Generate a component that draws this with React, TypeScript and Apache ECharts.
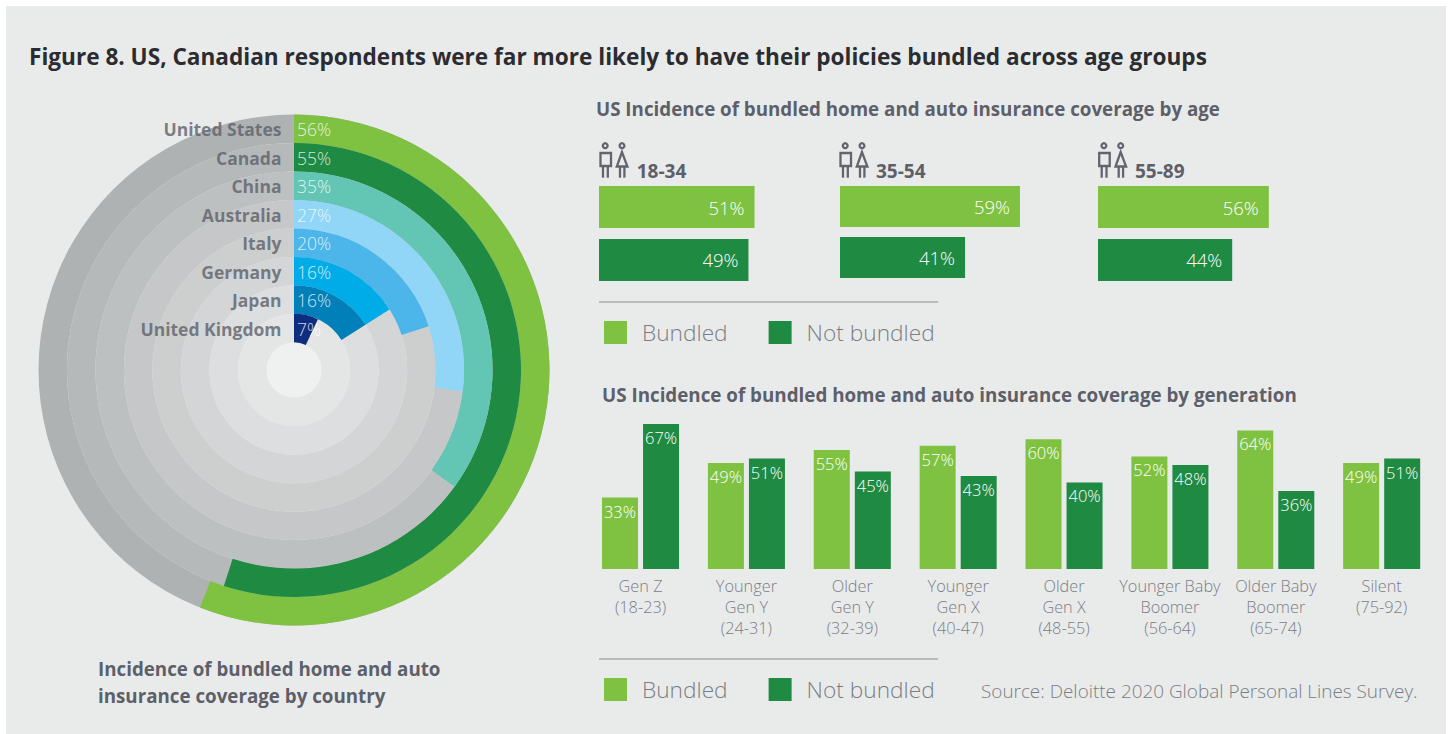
import React, { useEffect, useRef } from "react";
import * as echarts from "echarts";

// Country rings, outermost first
const countries = ["United States", "Canada", "China", "Australia", "Italy", "Germany", "Japan", "United Kingdom"];
const countryShares = [56, 55, 35, 27, 20, 16, 16, 7];
const ringFull = [100, 100, 100, 100, 100, 100, 100, 100];
const ringColors = ["#7fc241", "#1f8a42", "#63c5b3", "#91d6f7", "#4cb6ea", "#00ace8", "#007fb8", "#0f2d7e"];
const trackColors = ["#aeb2b3", "#b5b9b9", "#bdc0c1", "#c5c7c8", "#cdcfce", "#d3d5d6", "#dcdee0", "#e4e6e6"];

// Age groups
const ageGroups = ["18-34", "35-54", "55-89"];
const ageBundled = [51, 59, 56];
const ageNotBundled = [49, 41, 44];

// Generations
const generations = [
  "Gen Z\n(18-23)",
  "Younger\nGen Y\n(24-31)",
  "Older\nGen Y\n(32-39)",
  "Younger\nGen X\n(40-47)",
  "Older\nGen X\n(48-55)",
  "Younger Baby\nBoomer\n(56-64)",
  "Older Baby\nBoomer\n(65-74)",
  "Silent\n(75-92)",
];
const generationBundled = [33, 49, 55, 57, 60, 52, 64, 49];
const generationNotBundled = [67, 51, 45, 43, 40, 48, 36, 51];

const legendNames = ["Bundled", "Not bundled"];

const FONT = "'Open Sans', sans-serif";
const LIGHT_GREEN = "#7fc241";
const DARK_GREEN = "#1f8a42";
const HEADING = "#5d5f69";
const SOFT_TEXT = "#7b7d84";

// One pair of pictograms (man and woman) drawn as stroked outlines
function peopleIcon(x: number) {
  const style = { stroke: "#63656e", lineWidth: 2.3, fill: "none" };
  const leg = (px: number, y1: number) => ({
    type: "line",
    shape: { x1: px, y1, x2: px, y2: 177.7 },
    style,
  });
  return {
    type: "group",
    x,
    children: [
      { type: "circle", shape: { cx: 605.2, cy: 145.7, r: 2.4 }, style },
      { type: "rect", shape: { x: 600.5, y: 153, width: 10.5, height: 13 }, style },
      leg(603, 166),
      leg(607.8, 166),
      { type: "circle", shape: { cx: 622, cy: 145.7, r: 2.4 }, style },
      { type: "polygon", shape: { points: [[622, 152], [616.8, 166.5], [627.4, 166.5]] }, style },
      leg(620, 166.5),
      leg(624.4, 166.5),
    ],
  };
}

function textAt(text: string, x: number, y: number, fontSize: number, fill: string, fontWeight: number | string = "bold") {
  return {
    type: "text",
    x,
    y,
    style: { text, fontFamily: FONT, fontSize, fontWeight, fill, verticalAlign: "middle", align: "left" },
  };
}

function rule(y: number) {
  return {
    type: "line",
    shape: { x1: 599, y1: y, x2: 938, y2: y },
    style: { stroke: "#a9abad", lineWidth: 1.6 },
  };
}

const ageLefts = [599, 840, 1098];
const ageLayouts = [
  { height: 95, barWidth: 42, barGap: "26%" },
  { height: 92, barWidth: 41, barGap: "24%" },
  { height: 95, barWidth: 42, barGap: "26%" },
];
const ageIconShift = [0, 240, 498.7];
const ageLabelX = [636.7, 876, 1135];

function buildOption() {
  const ageGrids = ageLefts.map((left, i) => ({ left, top: 186, width: 305, height: ageLayouts[i].height }));
  const grids = [
    ...ageGrids,
    { left: 587.6, top: 417.5, width: 847, height: 151.5 },
  ];
  const hiddenLine = { show: false };

  const xAxes: any[] = ageLefts.map((_, i) => ({
    type: "value", gridIndex: i, min: 0, max: 100, show: false,
  }));
  const yAxes: any[] = ageLefts.map((_, i) => ({
    type: "category", gridIndex: i, data: [ageGroups[i]], inverse: true, show: false,
  }));
  xAxes.push({
    type: "category",
    gridIndex: 3,
    data: generations,
    axisLine: hiddenLine,
    axisTick: hiddenLine,
    axisLabel: {
      interval: 0,
      margin: 6,
      fontFamily: FONT,
      fontSize: 16.3,
      fontWeight: 300,
      lineHeight: 21,
      color: SOFT_TEXT,
      verticalAlign: "top",
    },
  });
  yAxes.push({ type: "value", gridIndex: 3, min: 0, max: 70, show: false });

  const ageLabel = {
    show: true,
    position: "insideRight",
    distance: 10,
    formatter: "{c}%",
    color: "#ffffff",
    fontFamily: FONT,
    fontSize: 18.5,
    fontWeight: 300,
  };
  const ageSeries = ageLefts.flatMap((_, i) => [
    {
      type: "bar", name: legendNames[0], xAxisIndex: i, yAxisIndex: i,
      data: [ageBundled[i]], barWidth: ageLayouts[i].barWidth, barGap: ageLayouts[i].barGap,
      itemStyle: { color: LIGHT_GREEN }, label: ageLabel,
    },
    {
      type: "bar", name: legendNames[1], xAxisIndex: i, yAxisIndex: i,
      data: [ageNotBundled[i]], barWidth: ageLayouts[i].barWidth, barGap: ageLayouts[i].barGap,
      itemStyle: { color: DARK_GREEN }, label: ageLabel,
    },
  ]);

  const columnLabel = {
    show: true,
    position: "insideTop",
    distance: 5,
    formatter: "{c}%",
    color: "#ffffff",
    fontFamily: FONT,
    fontSize: 16.5,
    fontWeight: 300,
  };
  const generationSeries = [
    {
      type: "bar", name: legendNames[0], xAxisIndex: 3, yAxisIndex: 3,
      data: generationBundled, barWidth: 36, barGap: "14%",
      itemStyle: { color: LIGHT_GREEN }, label: columnLabel,
    },
    {
      type: "bar", name: legendNames[1], xAxisIndex: 3, yAxisIndex: 3,
      data: generationNotBundled, barWidth: 36, barGap: "14%",
      itemStyle: { color: DARK_GREEN }, label: columnLabel,
    },
  ];

  const polarSeries = [
    {
      type: "bar", name: "Track", coordinateSystem: "polar",
      barCategoryGap: "0%", barGap: "-100%",
      data: ringFull.map((value, i) => ({ value, itemStyle: { color: trackColors[i] } })),
    },
    {
      type: "bar", name: "Share", coordinateSystem: "polar",
      barCategoryGap: "0%", barGap: "-100%",
      data: countryShares.map((value, i) => ({ value, itemStyle: { color: ringColors[i] } })),
    },
    {
      // Country names, right-aligned against the twelve o'clock seam
      type: "scatter", name: "Countries", coordinateSystem: "polar", symbolSize: 0,
      data: countries.map((c) => [c, 0]),
      label: {
        show: true, position: "left", distance: 12.5, offset: [0, 0.5],
        formatter: (p: any) => p.value[0],
        fontFamily: FONT, fontSize: 17.5, fontWeight: "bold", color: HEADING,
      },
    },
    {
      // Percentages at the start of each ring
      type: "scatter", name: "Shares", coordinateSystem: "polar", symbolSize: 0,
      data: countries.map((c, i) => [c, 0, countryShares[i]]),
      label: {
        show: true, position: "right", distance: 3, offset: [0, 0.5],
        formatter: (p: any) => `${p.value[2]}%`,
        fontFamily: FONT, fontSize: 17.5, fontWeight: 300, color: "#ffffff",
      },
    },
  ];

  const legendBase = {
    left: 599,
    data: legendNames,
    icon: "rect",
    itemWidth: 23,
    itemHeight: 23,
    itemGap: 41,
    selectedMode: false,
    textStyle: {
      fontFamily: FONT, fontSize: 22.7, fontWeight: 300, color: SOFT_TEXT, padding: [0, 0, 2, 10],
    },
  };

  return {
    animation: false,
    backgroundColor: "#ffffff",
    polar: { center: [294, 370], radius: [27.7, 255.5] },
    angleAxis: { type: "value", min: 0, max: 100, startAngle: 90, clockwise: true, show: false },
    radiusAxis: { type: "category", data: countries, inverse: true, show: false },
    grid: grids,
    xAxis: xAxes,
    yAxis: yAxes,
    legend: [
      { ...legendBase, top: 316 },
      { ...legendBase, top: 673 },
    ],
    series: [...polarSeries, ...ageSeries, ...generationSeries],
    graphic: {
      elements: [
        { type: "rect", shape: { x: 6, y: 6, width: 1440, height: 728 }, style: { fill: "#e9ebeb" } },
        { type: "circle", shape: { cx: 294, cy: 370, r: 27.7 }, style: { fill: "#eff1f1" } },
        textAt("Figure 8. US, Canadian respondents were far more likely to have their policies bundled across age groups", 29, 56.5, 22.6, "#2b2b30"),
        textAt("US Incidence of bundled home and auto insurance coverage by age", 596, 108, 18.75, HEADING),
        textAt("US Incidence of bundled home and auto insurance coverage by generation", 602, 395, 18.8, HEADING),
        textAt("Incidence of bundled home and auto", 98, 668, 18.75, HEADING),
        textAt("insurance coverage by country", 98, 695, 18.75, HEADING),
        textAt("Source: Deloitte 2020 Global Personal Lines Survey.", 981, 690.5, 18.9, SOFT_TEXT, 300),
        ...ageGroups.map((g, i) => textAt(g, ageLabelX[i], 171, 19, HEADING)),
        ...ageIconShift.map((x) => peopleIcon(x)),
        rule(302),
        rule(659),
      ],
    },
  };
}

export default function App() {
  const ref = useRef<HTMLDivElement>(null);
  useEffect(() => {
    const chart = echarts.init(ref.current!, undefined, { renderer: "svg" });
    chart.setOption(buildOption() as any);
    return () => chart.dispose();
  }, []);
  return <div ref={ref} style={{ position: "fixed", left: 0, top: 0, width: 1449, height: 734 }} />;
}
